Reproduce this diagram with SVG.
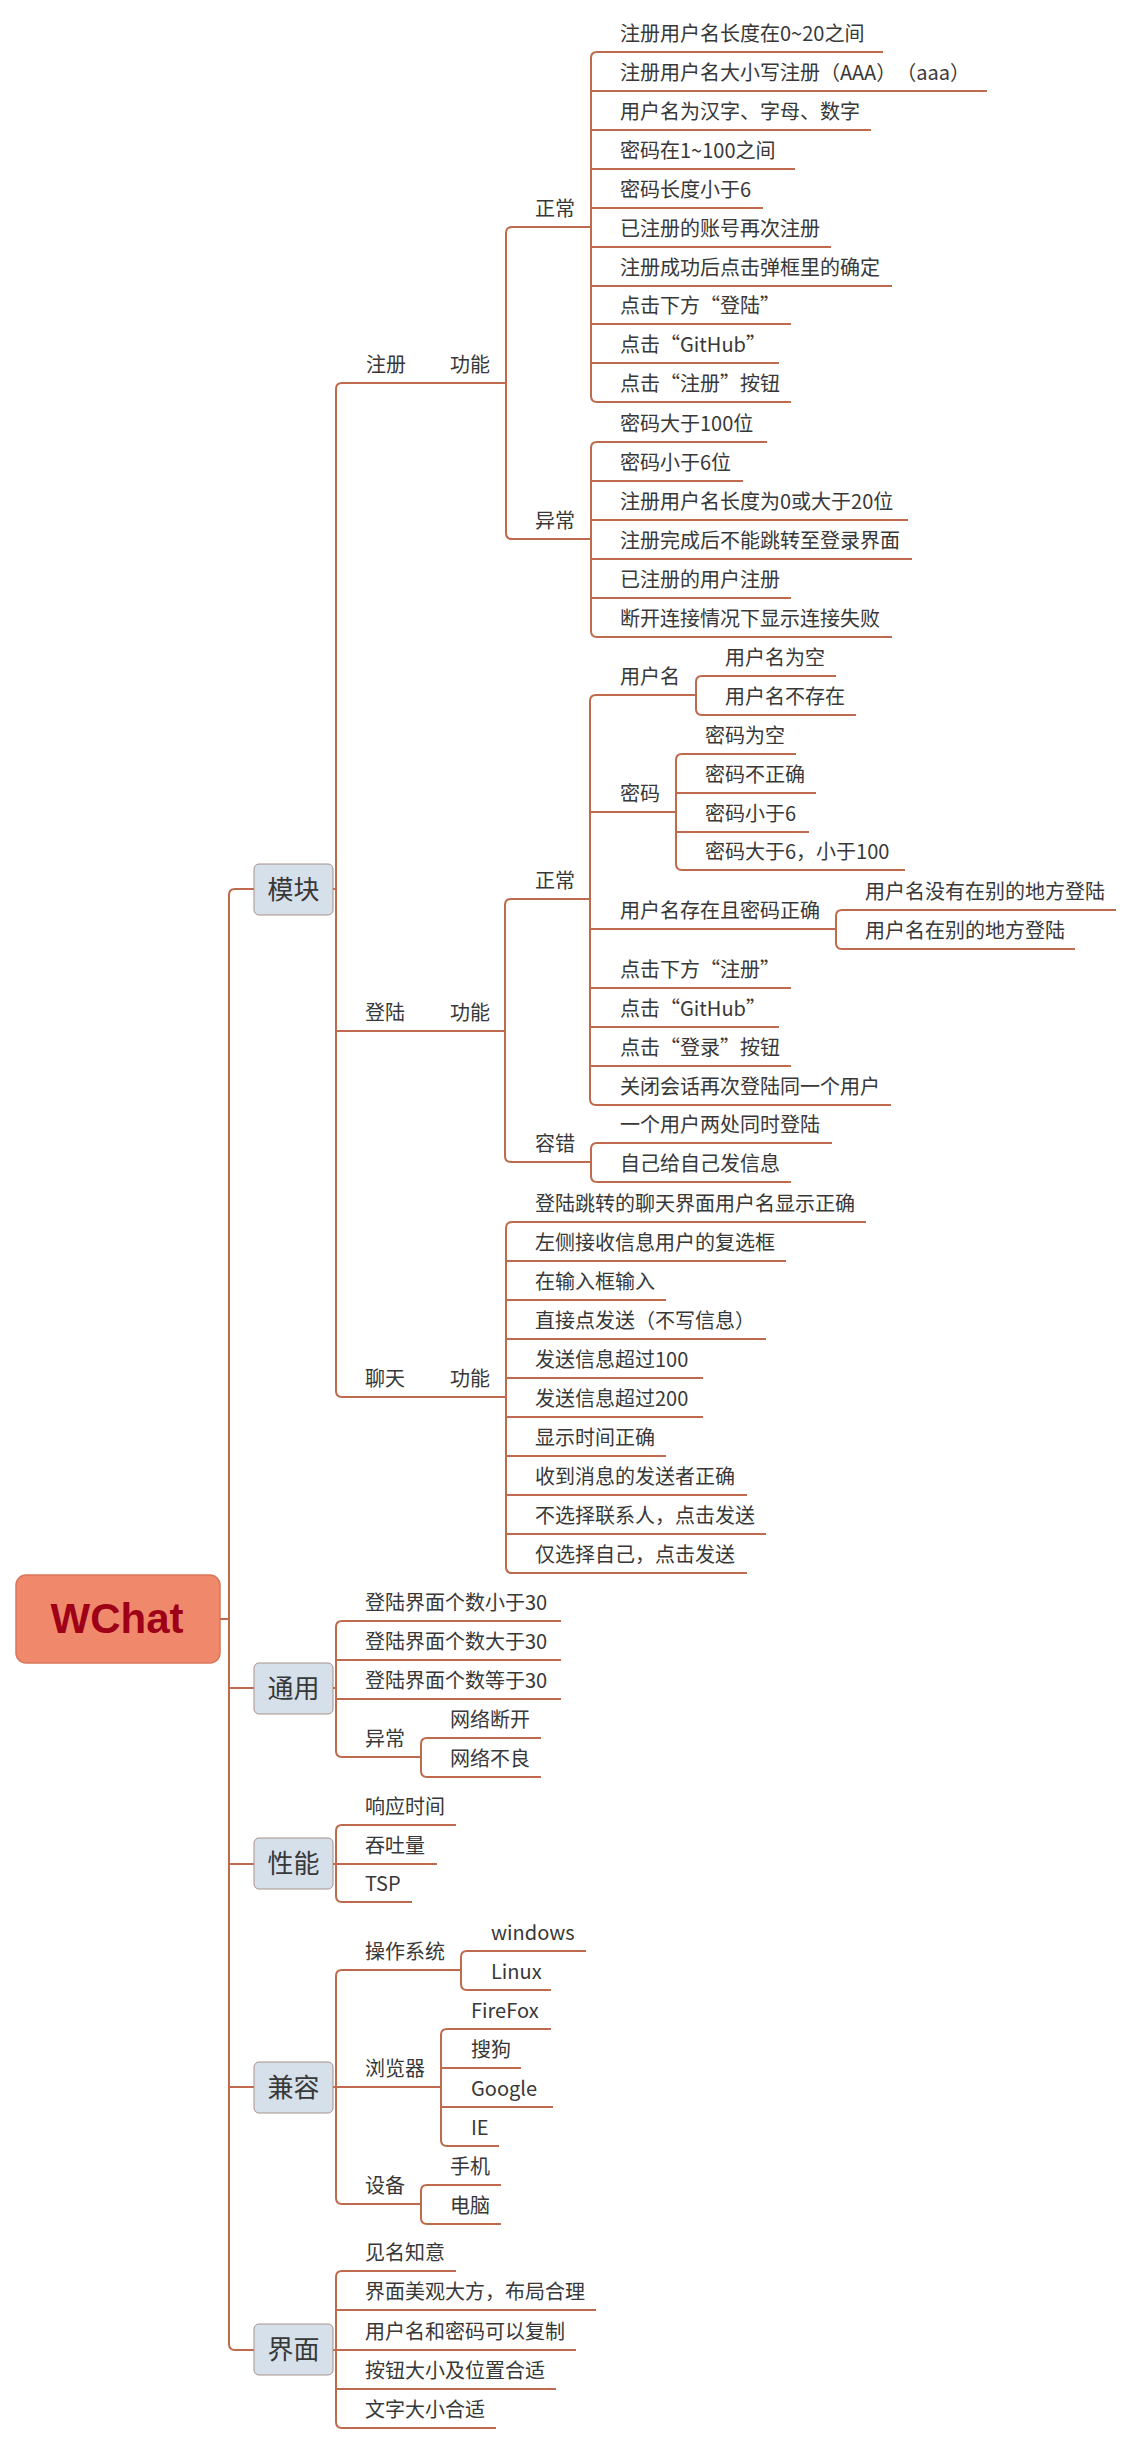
<svg xmlns="http://www.w3.org/2000/svg" width="1134" height="2444" viewBox="0 0 1134 2444">
<style>
text{text-spacing-trim:space-all}
.ln{fill:none;stroke:#BF6A4C;stroke-width:2}
.t{font-family:"Noto Sans CJK SC","Noto Sans",sans-serif;font-size:20px;fill:#383838}
.bx{fill:#D6E0EB;stroke:#A9918B;stroke-width:1}
.bt{font-family:"Noto Sans CJK SC","Noto Sans",sans-serif;font-size:26px;fill:#383838;text-anchor:middle}
</style>
<rect width="1134" height="2444" fill="#ffffff"/>
<g id="connectors">
<path class="ln" d="M254,889 H235 Q229,889 229,895 V2344 Q229,2350 235,2350 H254 M229,1688 H254 M229,1864 H254 M229,2087 H254 M220,1619 H229"/>
<path class="ln" d="M333,889 H336 M506,383 H342 Q336,383 336,389 V1391 Q336,1397 342,1397 H506 M336,1031 H505"/>
<path class="ln" d="M591,227 H512 Q506,227 506,233 V533 Q506,539 512,539 H591"/>
<path class="ln" d="M883,52 H597 Q591,52 591,58 V396 Q591,402 597,402 H791 M591,91 H987 M591,130 H871 M591,169 H795 M591,208 H763 M591,247 H831 M591,286 H892 M591,324 H791 M591,363 H779"/>
<path class="ln" d="M767,442 H597 Q591,442 591,448 V631 Q591,637 597,637 H892 M591,481 H743 M591,520 H908 M591,559 H912 M591,598 H791"/>
<path class="ln" d="M590,899 H511 Q505,899 505,905 V1156 Q505,1162 511,1162 H591"/>
<path class="ln" d="M696,695 H596 Q590,695 590,701 V1099 Q590,1105 596,1105 H891 M590,812 H676 M590,929 H836 M590,988 H791 M590,1027 H779 M590,1066 H791"/>
<path class="ln" d="M836,676 H702 Q696,676 696,682 V709 Q696,715 702,715 H856"/>
<path class="ln" d="M796,754 H682 Q676,754 676,760 V864 Q676,870 682,870 H905 M676,793 H816 M676,832 H809"/>
<path class="ln" d="M1116,910 H842 Q836,910 836,916 V943 Q836,949 842,949 H1075"/>
<path class="ln" d="M832,1143 H597 Q591,1143 591,1149 V1176 Q591,1182 597,1182 H791"/>
<path class="ln" d="M866,1222 H512 Q506,1222 506,1228 V1567 Q506,1573 512,1573 H747 M506,1261 H786 M506,1300 H666 M506,1339 H766 M506,1378 H703 M506,1417 H703 M506,1456 H666 M506,1495 H747 M506,1534 H766"/>
<path class="ln" d="M333,1688 H336 M561,1621 H342 Q336,1621 336,1627 V1751 Q336,1757 342,1757 H421 M336,1660 H561 M336,1699 H561"/>
<path class="ln" d="M541,1738 H427 Q421,1738 421,1744 V1771 Q421,1777 427,1777 H541"/>
<path class="ln" d="M333,1864 H336 M456,1825 H342 Q336,1825 336,1831 V1896 Q336,1902 342,1902 H412 M336,1864 H437"/>
<path class="ln" d="M333,2087 H336 M461,1970 H342 Q336,1970 336,1976 V2198 Q336,2204 342,2204 H421 M336,2087 H441"/>
<path class="ln" d="M586,1951 H467 Q461,1951 461,1957 V1984 Q461,1990 467,1990 H551"/>
<path class="ln" d="M551,2029 H447 Q441,2029 441,2035 V2140 Q441,2146 447,2146 H499 M441,2068 H521 M441,2107 H553"/>
<path class="ln" d="M501,2185 H427 Q421,2185 421,2191 V2218 Q421,2224 427,2224 H501"/>
<path class="ln" d="M333,2350 H336 M456,2271 H342 Q336,2271 336,2277 V2422 Q336,2428 342,2428 H496 M336,2310 H596 M336,2350 H576 M336,2389 H556"/>
</g>
<g id="root">
<rect x="16" y="1575" width="204" height="88" rx="10" fill="#F0896C" stroke="#D8765A" stroke-width="1.5"/>
<text x="117" y="1633" text-anchor="middle" font-family="Liberation Sans, Arial, sans-serif" font-weight="bold" font-size="42" fill="#9E0018">WChat</text>
</g>
<g id="n-mokuai"><rect class="bx" x="254" y="864" width="79" height="51" rx="5"/><text class="bt" x="293.5" y="899">模块</text></g>
<g id="n-tongyong"><rect class="bx" x="254" y="1663" width="79" height="51" rx="5"/><text class="bt" x="293.5" y="1698">通用</text></g>
<g id="n-xingneng"><rect class="bx" x="254" y="1838" width="79" height="51" rx="5"/><text class="bt" x="293.5" y="1873">性能</text></g>
<g id="n-jianrong"><rect class="bx" x="254" y="2062" width="79" height="51" rx="5"/><text class="bt" x="293.5" y="2097">兼容</text></g>
<g id="n-jiemian"><rect class="bx" x="254" y="2324" width="79" height="51" rx="5"/><text class="bt" x="293.5" y="2359">界面</text></g>

<g id="n-zhuce"><text class="t" x="366" y="372">注册</text><text class="t" x="450" y="372">功能</text></g>
<g id="n-zc-zc"><text class="t" x="535" y="216">正常</text></g>
<g id="n-zc-yc"><text class="t" x="535" y="528">异常</text></g>
<g id="n-zc-leaves">
<text class="t" x="620" y="41">注册用户名长度在0~20之间</text>
<text class="t" x="620" y="80">注册用户名大小写注册（AAA）（aaa）</text>
<text class="t" x="620" y="119">用户名为汉字、字母、数字</text>
<text class="t" x="620" y="158">密码在1~100之间</text>
<text class="t" x="620" y="197">密码长度小于6</text>
<text class="t" x="620" y="236">已注册的账号再次注册</text>
<text class="t" x="620" y="275">注册成功后点击弹框里的确定</text>
<text class="t" x="620" y="313">点击下方“登陆”</text>
<text class="t" x="620" y="352">点击“GitHub”</text>
<text class="t" x="620" y="391">点击“注册”按钮</text>
<text class="t" x="620" y="431">密码大于100位</text>
<text class="t" x="620" y="470">密码小于6位</text>
<text class="t" x="620" y="509">注册用户名长度为0或大于20位</text>
<text class="t" x="620" y="548">注册完成后不能跳转至登录界面</text>
<text class="t" x="620" y="587">已注册的用户注册</text>
<text class="t" x="620" y="626">断开连接情况下显示连接失败</text>
</g>

<g id="n-denglu"><text class="t" x="365" y="1020">登陆</text><text class="t" x="450" y="1020">功能</text></g>
<g id="n-dl-zc"><text class="t" x="535" y="888">正常</text></g>
<g id="n-dl-rc"><text class="t" x="535" y="1151">容错</text></g>
<g id="n-dl-yhm"><text class="t" x="620" y="684">用户名</text></g>
<g id="n-dl-mm"><text class="t" x="620" y="801">密码</text></g>
<g id="n-dl-cz"><text class="t" x="620" y="918">用户名存在且密码正确</text></g>
<g id="n-dl-leaves">
<text class="t" x="725" y="665">用户名为空</text>
<text class="t" x="725" y="704">用户名不存在</text>
<text class="t" x="705" y="743">密码为空</text>
<text class="t" x="705" y="782">密码不正确</text>
<text class="t" x="705" y="821">密码小于6</text>
<text class="t" x="705" y="859">密码大于6，小于100</text>
<text class="t" x="865" y="899">用户名没有在别的地方登陆</text>
<text class="t" x="865" y="938">用户名在别的地方登陆</text>
<text class="t" x="620" y="977">点击下方“注册”</text>
<text class="t" x="620" y="1016">点击“GitHub”</text>
<text class="t" x="620" y="1055">点击“登录”按钮</text>
<text class="t" x="620" y="1094">关闭会话再次登陆同一个用户</text>
<text class="t" x="620" y="1132">一个用户两处同时登陆</text>
<text class="t" x="620" y="1171">自己给自己发信息</text>
</g>

<g id="n-liaotian"><text class="t" x="365" y="1386">聊天</text><text class="t" x="450" y="1386">功能</text></g>
<g id="n-lt-leaves">
<text class="t" x="535" y="1211">登陆跳转的聊天界面用户名显示正确</text>
<text class="t" x="535" y="1250">左侧接收信息用户的复选框</text>
<text class="t" x="535" y="1289">在输入框输入</text>
<text class="t" x="535" y="1328">直接点发送（不写信息）</text>
<text class="t" x="535" y="1367">发送信息超过100</text>
<text class="t" x="535" y="1406">发送信息超过200</text>
<text class="t" x="535" y="1445">显示时间正确</text>
<text class="t" x="535" y="1484">收到消息的发送者正确</text>
<text class="t" x="535" y="1523">不选择联系人，点击发送</text>
<text class="t" x="535" y="1562">仅选择自己，点击发送</text>
</g>

<g id="n-ty-leaves">
<text class="t" x="365" y="1610">登陆界面个数小于30</text>
<text class="t" x="365" y="1649">登陆界面个数大于30</text>
<text class="t" x="365" y="1688">登陆界面个数等于30</text>
</g>
<g id="n-ty-yc"><text class="t" x="365" y="1746">异常</text></g>
<g id="n-ty-yc-leaves">
<text class="t" x="450" y="1727">网络断开</text>
<text class="t" x="450" y="1766">网络不良</text>
</g>

<g id="n-xn-leaves">
<text class="t" x="365" y="1814">响应时间</text>
<text class="t" x="365" y="1853">吞吐量</text>
<text class="t" x="365" y="1891">TSP</text>
</g>

<g id="n-jr-os"><text class="t" x="365" y="1959">操作系统</text></g>
<g id="n-jr-browser"><text class="t" x="365" y="2076">浏览器</text></g>
<g id="n-jr-device"><text class="t" x="365" y="2193">设备</text></g>
<g id="n-jr-leaves">
<text class="t" x="491" y="1940">windows</text>
<text class="t" x="491" y="1979">Linux</text>
<text class="t" x="471" y="2018">FireFox</text>
<text class="t" x="471" y="2057">搜狗</text>
<text class="t" x="471" y="2096">Google</text>
<text class="t" x="471" y="2135">IE</text>
<text class="t" x="450" y="2174">手机</text>
<text class="t" x="450" y="2213">电脑</text>
</g>

<g id="n-jm-leaves">
<text class="t" x="365" y="2260">见名知意</text>
<text class="t" x="365" y="2299">界面美观大方，布局合理</text>
<text class="t" x="365" y="2339">用户名和密码可以复制</text>
<text class="t" x="365" y="2378">按钮大小及位置合适</text>
<text class="t" x="365" y="2417">文字大小合适</text>
</g>
</svg>
